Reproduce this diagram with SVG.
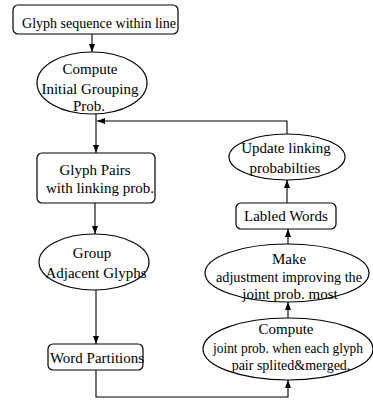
<svg xmlns="http://www.w3.org/2000/svg" width="373" height="400" viewBox="0 0 373 400">
<defs>
<marker id="ah" viewBox="0 0 8 6" refX="8" refY="3" markerWidth="8" markerHeight="6" markerUnits="userSpaceOnUse" orient="auto">
<path d="M0,0 L8,3 L0,6 Z" fill="#000"/>
</marker>
<style>
.n{fill:#fff;stroke:#000;stroke-width:1.2}
.t{font-family:"Liberation Serif","Times New Roman",serif;font-size:15px;fill:#000;text-anchor:middle}
.s{font-size:14px}
.c{fill:none;stroke:#000;stroke-width:1.1}
</style>
</defs>
<rect width="373" height="400" fill="#fff"/>
<g id="connectors">
<line class="c" x1="92" y1="34" x2="92" y2="52" marker-end="url(#ah)"/>
<line class="c" x1="96" y1="114" x2="96" y2="153" marker-end="url(#ah)"/>
<polyline class="c" points="287,135 287,121 97,121" marker-end="url(#ah)"/>
<line class="c" x1="95" y1="203" x2="95" y2="234" marker-end="url(#ah)"/>
<line class="c" x1="96" y1="290" x2="96" y2="344" marker-end="url(#ah)"/>
<polyline class="c" points="96,370 96,397 288,397 288,380" marker-end="url(#ah)"/>
<line class="c" x1="288" y1="318" x2="288" y2="302" marker-end="url(#ah)"/>
<line class="c" x1="288" y1="244" x2="288" y2="229" marker-end="url(#ah)"/>
<line class="c" x1="287" y1="203" x2="287" y2="180" marker-end="url(#ah)"/>
</g>
<g id="glyph-seq">
<rect class="n" x="13" y="5" width="165" height="29" rx="5"/>
<text class="t" x="99" y="28" textLength="154" lengthAdjust="spacingAndGlyphs">Glyph sequence within line</text>
</g>
<g id="init-group">
<ellipse class="n" cx="92" cy="83" rx="55" ry="31"/>
<text class="t" x="90" y="74">Compute</text>
<text class="t" x="90" y="94">Initial Grouping</text>
<text class="t" x="89" y="111">Prob.</text>
</g>
<g id="glyph-pairs">
<rect class="n" x="37" y="153" width="118" height="50" rx="5"/>
<text class="t" x="95" y="175">Glyph Pairs</text>
<text class="t" x="100" y="193">with linking prob.</text>
</g>
<g id="group-adj">
<ellipse class="n" cx="94" cy="262" rx="55" ry="28"/>
<text class="t" x="92" y="258">Group</text>
<text class="t" x="96" y="278">Adjacent Glyphs</text>
</g>
<g id="word-part">
<rect class="n" x="48" y="344" width="95" height="26" rx="5"/>
<text class="t" x="97" y="363">Word Partitions</text>
</g>
<g id="update">
<ellipse class="n" cx="287" cy="157" rx="58" ry="23"/>
<text class="t" x="286" y="153">Update linking</text>
<text class="t" x="285" y="173">probabilties</text>
</g>
<g id="labled">
<rect class="n" x="236" y="203" width="100" height="26" rx="5"/>
<text class="t" x="286" y="221">Labled Words</text>
</g>
<g id="make">
<ellipse class="n" cx="287" cy="273" rx="82" ry="29"/>
<text class="t" x="289" y="264">Make</text>
<text class="t" x="289" y="282" textLength="146" lengthAdjust="spacingAndGlyphs">adjustment improving the</text>
<text class="t" x="290" y="299">joint prob. most</text>
</g>
<g id="compute-joint">
<ellipse class="n" cx="288" cy="349" rx="85" ry="31"/>
<text class="t" x="286" y="334">Compute</text>
<text class="t s" x="288" y="353" textLength="150" lengthAdjust="spacingAndGlyphs">joint prob. when each glyph</text>
<text class="t s" x="291" y="370">pair splited&amp;merged.</text>
</g>
</svg>
